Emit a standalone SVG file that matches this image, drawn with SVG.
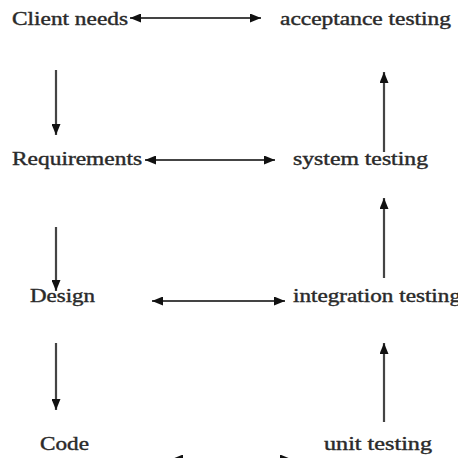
<svg xmlns="http://www.w3.org/2000/svg" width="458" height="458" viewBox="0 0 458 458">
  <style>
    .lbl { font-family: "Liberation Serif", "Times New Roman", serif; font-size: 18px; fill: #2a2a2a; stroke: #2a2a2a; stroke-width: 0.4; }
    .conn { stroke: #444444; stroke-width: 2.2; fill: none; }
    .fwd { marker-end: url(#head); }
    .both { marker-start: url(#tail); marker-end: url(#head); }
  </style>
  <defs>
    <marker id="head" viewBox="0 0 11 9" refX="11" refY="4.5" markerWidth="11" markerHeight="9" markerUnits="userSpaceOnUse" orient="auto">
      <path d="M0,0 L11,4.5 L0,9 Z" fill="#111"/>
    </marker>
    <marker id="tail" viewBox="0 0 11 9" refX="0" refY="4.5" markerWidth="11" markerHeight="9" markerUnits="userSpaceOnUse" orient="auto">
      <path d="M11,0 L0,4.5 L11,9 Z" fill="#111"/>
    </marker>
  </defs>
  <rect width="458" height="458" fill="#ffffff"/>

  <g id="client-needs"><text class="lbl" x="12" y="25" textLength="116" lengthAdjust="spacingAndGlyphs">Client needs</text></g>
  <g id="acceptance-testing"><text class="lbl" x="280" y="25" textLength="171" lengthAdjust="spacingAndGlyphs">acceptance testing</text></g>
  <g id="requirements"><text class="lbl" x="12" y="165" textLength="130" lengthAdjust="spacingAndGlyphs">Requirements</text></g>
  <g id="system-testing"><text class="lbl" x="293" y="165" textLength="135" lengthAdjust="spacingAndGlyphs">system testing</text></g>
  <g id="design"><text class="lbl" x="30" y="302" textLength="65" lengthAdjust="spacingAndGlyphs">Design</text></g>
  <g id="integration-testing"><text class="lbl" x="293" y="302" textLength="168" lengthAdjust="spacingAndGlyphs">integration testing</text></g>
  <g id="code"><text class="lbl" x="40" y="450" textLength="49" lengthAdjust="spacingAndGlyphs">Code</text></g>
  <g id="unit-testing"><text class="lbl" x="324" y="450" textLength="108" lengthAdjust="spacingAndGlyphs">unit testing</text></g>

  <g id="connectors">
    <!-- horizontal two-way links -->
    <line class="conn both" x1="130" y1="18" x2="261" y2="18"/>
    <line class="conn both" x1="145" y1="160" x2="275" y2="160"/>
    <line class="conn both" x1="152" y1="301" x2="285" y2="301"/>
    <line class="conn both" x1="172" y1="459" x2="291" y2="459"/>
    <!-- left column, downward -->
    <line class="conn fwd" x1="56" y1="70" x2="56" y2="135"/>
    <line class="conn fwd" x1="56" y1="227" x2="56" y2="291"/>
    <line class="conn fwd" x1="56" y1="343" x2="56" y2="410"/>
    <!-- right column, upward -->
    <line class="conn fwd" x1="384" y1="152" x2="384" y2="72"/>
    <line class="conn fwd" x1="384" y1="278" x2="384" y2="198"/>
    <line class="conn fwd" x1="384" y1="422" x2="384" y2="343"/>
  </g>
</svg>
